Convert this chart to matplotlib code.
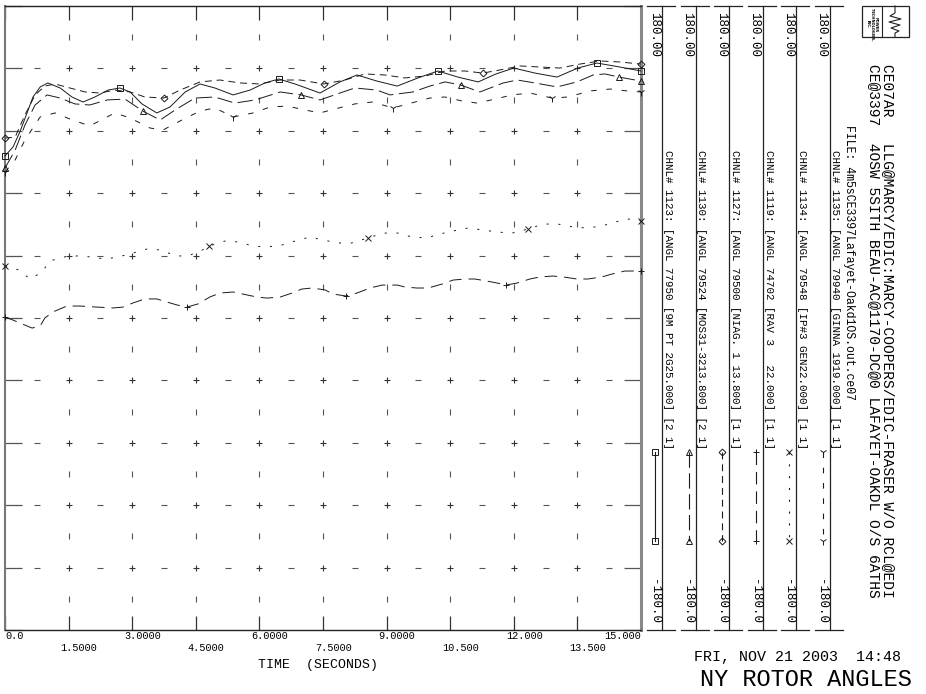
import numpy as np
import matplotlib.pyplot as plt
from matplotlib.patches import Rectangle

plt.rcParams['font.family'] = ['Liberation Mono', 'DejaVu Sans Mono']
plt.rcParams['lines.scale_dashes'] = False

# rotor angles [deg], time [s]
t_1123 = [0, 0.19, 0.35, 0.52, 0.66, 0.83, 1.01, 1.30, 1.58, 1.84, 2.12, 2.43, 2.71, 2.95,
          3.23, 3.58, 3.89, 4.25, 4.60, 4.95, 5.38, 5.78, 6.13, 6.46, 6.84, 7.43, 7.90, 8.30,
          8.77, 9.25, 9.74, 10.21, 10.68, 11.16, 11.58, 12.00, 12.50, 13.02, 13.51, 13.96,
          14.50, 15.00]
a_1123 = [93.5, 98.7, 107.3, 118.3, 127.5, 133.3, 135.6, 132.7, 127.5, 124.6, 127.5, 131.5,
          132.7, 130.4, 123.5, 118.3, 121.7, 130.4, 135.0, 132.7, 128.7, 131.5, 135.6, 137.9,
          135.0, 129.8, 136.2, 140.2, 136.7, 133.8, 138.5, 142.5, 139.0, 136.2, 140.8, 144.2,
          141.3, 139.0, 144.2, 147.1, 144.8, 142.5]

t_1130 = [0, 0.24, 0.47, 0.71, 0.99, 1.30, 1.65, 2.00, 2.41, 2.83, 3.25, 3.66, 4.01, 4.48,
          4.95, 5.42, 5.90, 6.49, 6.98, 7.43, 7.90, 8.25, 8.77, 9.08, 9.62, 10.02, 10.38,
          10.75, 11.20, 11.75, 12.08, 12.50, 13.02, 13.49, 13.87, 14.15, 14.48, 15.00]
a_1130 = [86.5, 96.9, 111.3, 122.9, 128.7, 126.9, 123.5, 122.9, 125.8, 126.3, 119.4, 114.2,
          120.0, 126.9, 127.5, 124.0, 125.8, 130.4, 128.7, 125.8, 129.8, 132.7, 131.5, 128.7,
          130.4, 133.8, 136.2, 134.4, 130.4, 135.6, 137.3, 135.6, 133.3, 136.2, 140.2, 140.8,
          139.0, 136.7]

t_1127 = [0, 0.24, 0.47, 0.71, 0.94, 1.18, 1.53, 1.89, 2.24, 2.59, 2.95, 3.30, 3.75, 4.13,
          4.60, 5.07, 5.54, 6.01, 6.49, 6.96, 7.52, 8.02, 8.49, 8.96, 9.43, 9.91, 10.38,
          10.85, 11.27, 11.67, 12.15, 12.62, 13.09, 13.56, 14.03, 14.50, 15.00]
a_1127 = [103.8, 104.4, 117.1, 128.7, 133.8, 135.0, 132.7, 130.4, 129.8, 131.5, 130.4, 127.5,
          126.9, 131.5, 136.2, 137.3, 135.6, 135.0, 137.3, 137.3, 135.0, 137.3, 140.8, 140.2,
          138.5, 139.6, 142.5, 142.5, 141.3, 143.1, 145.4, 144.8, 144.2, 146.5, 148.3, 147.7,
          146.5]

t_1119 = [0, 0.19, 0.35, 0.64, 0.83, 0.94, 1.13, 1.46, 1.77, 2.17, 2.55, 2.78, 3.02, 3.30,
          3.58, 3.82, 4.06, 4.29, 4.55, 4.83, 5.07, 5.38, 5.61, 5.94, 6.18, 6.49, 6.77, 7.00,
          7.24, 7.55, 7.74, 8.04, 8.30, 8.61, 8.89, 9.25, 9.43, 9.71, 9.98, 10.31, 10.57,
          10.85, 11.08, 11.37, 11.60, 11.82, 12.08, 12.38, 12.62, 12.92, 13.16, 13.49, 13.75,
          14.08, 14.32, 14.62, 15.00]
a_1119 = [0.5, -1.2, -2.9, -5.8, -4.6, 0.0, 3.5, 6.9, 6.9, 6.3, 5.8, 6.3, 8.7, 11.0, 11.0,
          9.2, 7.5, 6.3, 8.1, 12.1, 14.4, 15.0, 13.8, 12.1, 11.5, 12.1, 14.4, 16.7, 17.3, 16.2,
          13.8, 12.7, 14.4, 17.3, 19.0, 19.0, 17.9, 17.3, 17.3, 19.6, 21.9, 22.5, 22.5, 21.3,
          20.2, 19.0, 20.2, 22.5, 23.7, 24.2, 23.7, 22.5, 22.5, 23.7, 25.4, 27.1, 27.1]

t_1134 = [0, 0.33, 0.59, 0.87, 1.06, 1.37, 1.70, 2.05, 2.36, 2.67, 3.02, 3.35, 3.70, 4.01,
          4.32, 4.65, 4.81, 5.19, 5.50, 5.85, 6.18, 6.53, 6.84, 7.19, 7.50, 7.85, 8.18, 8.56,
          8.92, 9.27, 9.60, 9.95, 10.26, 10.57, 10.92, 11.27, 11.60, 11.96, 12.33, 12.69,
          13.04, 13.40, 13.73, 14.08, 14.39, 14.72, 15.00]
a_1134 = [30.0, 27.7, 22.5, 26.5, 32.9, 35.2, 35.8, 35.2, 34.0, 35.2, 37.5, 39.8, 39.2, 35.8,
          35.8, 39.2, 41.5, 44.4, 43.9, 41.5, 41.0, 42.1, 44.4, 46.7, 45.0, 43.3, 43.3, 46.2,
          49.0, 49.0, 46.7, 46.2, 48.5, 50.2, 51.9, 50.8, 49.6, 49.0, 51.3, 54.2, 54.2, 52.5,
          51.9, 53.1, 55.4, 57.1, 56.0]

t_1135 = [0, 0.24, 0.47, 0.83, 1.18, 1.53, 2.00, 2.36, 2.59, 2.95, 3.42, 3.73, 4.13, 4.60,
          4.95, 5.38, 5.85, 6.25, 6.65, 7.08, 7.43, 7.78, 8.25, 8.66, 9.15, 9.67, 10.02, 10.38,
          10.78, 11.13, 11.56, 11.96, 12.38, 12.90, 13.28, 13.80, 14.27, 14.67, 15.00]
a_1135 = [84.2, 91.2, 102.7, 116.0, 118.3, 114.8, 110.8, 115.4, 118.3, 115.4, 109.6, 108.5,
          113.7, 119.4, 121.2, 116.0, 118.3, 121.7, 122.3, 120.0, 118.3, 120.6, 123.5, 124.6,
          121.2, 124.6, 126.9, 127.5, 125.2, 124.0, 126.3, 128.7, 129.8, 126.9, 127.5, 131.0,
          132.1, 131.0, 130.4]

channels = ["CHNL# 1123: [ANGL 77950 [9M PT 2G25.000] [2 1]",
            "CHNL# 1130: [ANGL 79524 [MOS31-3213.800] [2 1]",
            "CHNL# 1127: [ANGL 79500 [NIAG. 1 13.800] [1 1]",
            "CHNL# 1119: [ANGL 74702 [RAV 3   22.000] [1 1]",
            "CHNL# 1134: [ANGL 79548 [IP#3 GEN22.000] [1 1]",
            "CHNL# 1135: [ANGL 79940 [GINNA 1919.000] [1 1]"]
scale_max = ["180.00"] * 6
scale_min = ["-180.0"] * 6

time_ticks = [0, 1.5, 3.0, 4.5, 6.0, 7.5, 9.0, 10.5, 12.0, 13.5, 15.0]
time_labels = ["0.0", "1.5000", "3.0000", "4.5000", "6.0000", "7.5000",
               "9.0000", "10.500", "12.000", "13.500", "15.000"]

file_line = "FILE: 4m5sCE3397Lafayet-Oakd1OS.out.ce07"
title1 = "CE07AR   LLG@MARCY/EDIC:MARCY-COOPERS/EDIC-FRASER W/O RCL@EDI"
title2 = "CE@3397  4OSW 5SITH BEAU-AC@1170-DC@0 LAFAYET-OAKDL O/S 6ATHS"
stamp = "FRI, NOV 21 2003  14:48"
plot_name = "NY ROTOR ANGLES"

# line styles / markers, same order as channels
series = [
    (t_1123, a_1123, '-',              's', 5,   [0, 12, 23, 31, 39, 41]),
    (t_1130, a_1130, (0, (11, 4)),     '^', 5,   [0, 10, 18, 27, 36, 37]),
    (t_1127, a_1127, (0, (5, 3.5)),    'D', 3.5, [0, 12, 20, 28, 36]),
    (t_1119, a_1119, (0, (9, 5)),      '+', 5,   [0, 17, 31, 45, 56]),
    (t_1134, a_1134, (0, (1.5, 7)),    'x', 4.5, [0, 16, 27, 38, 46]),
    (t_1135, a_1135, (0, (4, 7)),      '1', 6,   [0, 15, 24, 33, 38]),
]

W, H = 926, 694
fig = plt.figure(figsize=(W / 100, H / 100), dpi=100)

# overlay panel in pixel coordinates for the right hand annotations
pan = fig.add_axes([0, 0, 1, 1])
pan.set_xlim(0, W)
pan.set_ylim(H, 0)
pan.axis('off')

ax = fig.add_axes([5 / W, (H - 630) / H, 636 / W, 624 / H])
ax.set_facecolor('none')
ax.set_xlim(0, 15)
ax.set_ylim(-180, 180)

for t, a, ls, mk, ms, idx in series:
    ax.plot(t, a, color='#1a1a1a', lw=0.7, linestyle=ls, marker=mk, markevery=idx,
            ms=ms, mfc='none', mec='#1a1a1a', mew=0.7, clip_on=False, zorder=3)

# printer style grid: + at crossings, - and | at half divisions
xm = np.arange(1.5, 14.9, 1.5)
xh = np.arange(0.75, 15, 1.5)
ym = np.arange(-144, 145, 36)
yh = np.arange(-162, 163, 36)
gx, gy = np.meshgrid(xm, ym)
ax.plot(gx.ravel(), gy.ravel(), '+', color='#333333', ms=4, mew=0.8, zorder=1)
gx, gy = np.meshgrid(xh, ym)
ax.plot(gx.ravel(), gy.ravel(), '_', color='#555555', ms=4, mew=0.8, zorder=1)
gx, gy = np.meshgrid(xm, yh)
ax.plot(gx.ravel(), gy.ravel(), '|', color='#555555', ms=4, mew=0.8, zorder=1)

ax.set_xticks(time_ticks)
ax.set_yticks(np.arange(-180, 181, 36))
ax.tick_params(axis='x', which='both', direction='in', length=10, width=0.9,
               top=True, bottom=True, labelbottom=False, color='#333333')
ax.tick_params(axis='y', which='both', direction='in', length=12, width=0.9,
               left=True, right=True, labelleft=False, color='#555555')
for s in ['top', 'bottom']:
    ax.spines[s].set_color('#222222')
    ax.spines[s].set_linewidth(1.0)
ax.spines['left'].set_color('#777777')
ax.spines['left'].set_linewidth(1.5)
ax.spines['right'].set_color('#888888')
ax.spines['right'].set_linewidth(2.2)

# staggered time labels
x0, sx = 5, 636 / 15
for i, (tt, lab) in enumerate(zip(time_ticks, time_labels)):
    px = x0 + tt * sx
    yy = 636 if i % 2 == 0 else 648
    if i == 0:
        pan.text(px, yy, lab, ha='left', va='center', fontsize=7.4)
    elif i == len(time_ticks) - 1:
        pan.text(px, yy, lab, ha='right', va='center', fontsize=7.4)
    else:
        pan.text(px - 8, yy, lab, ha='left', va='center', fontsize=7.4)
pan.text(318, 665, "TIME  (SECONDS)", ha='center', va='center', fontsize=9.5)

# channel scale columns with legend samples
for i, (lab, (t, a, ls, mk, ms, idx)) in enumerate(zip(channels, series)):
    xv = 662 + 33.5 * i
    pan.plot([xv, xv], [6, 630], color='#222222', lw=0.9)
    pan.plot([xv - 15, xv + 13], [6, 6], color='#222222', lw=0.9)
    pan.plot([xv - 15, xv + 13], [630, 630], color='#222222', lw=0.9)
    pan.text(xv - 8, 12, scale_max[i], rotation=-90, ha='center', va='top', fontsize=9)
    pan.text(xv - 8, 624, scale_min[i], rotation=-90, ha='center', va='bottom', fontsize=9)
    pan.text(xv + 6, 150, lab, rotation=-90, ha='center', va='top', fontsize=7.8)
    pan.plot([xv - 7, xv - 7], [452, 541], color='#1a1a1a', lw=0.8, linestyle=ls,
             marker=mk, markevery=[0, 1], ms=ms, mfc='none', mec='#1a1a1a', mew=0.7)

pan.text(849, 125, file_line, rotation=-90, ha='center', va='top', fontsize=8.3)
pan.text(888, 64, title1, rotation=-90, ha='center', va='top', fontsize=10.5)
pan.text(874, 64, title2, rotation=-90, ha='center', va='top', fontsize=10.5)

# company logo box
pan.add_patch(Rectangle((862, 6), 47, 31, fill=False, ec='#222222', lw=0.9))
pan.plot([882, 882], [6, 37], color='#222222', lw=0.8)
pan.text(872, 8, "POWER\nTECHNOLOGIES,\nINC.", rotation=-90, ha='center', va='top',
         fontsize=2.6, family='DejaVu Sans', fontweight='bold', linespacing=1.0)
pan.plot([895, 895, 890, 901, 889, 900, 891, 899, 895, 895],
         [6, 13, 16, 19, 22, 25, 28, 31, 33, 37], color='#222222', lw=0.8)

pan.text(797, 657, stamp, ha='center', va='center', fontsize=10.8)
pan.text(806, 680, plot_name, ha='center', va='center', fontsize=17)

fig.savefig('out.png', dpi=100)
